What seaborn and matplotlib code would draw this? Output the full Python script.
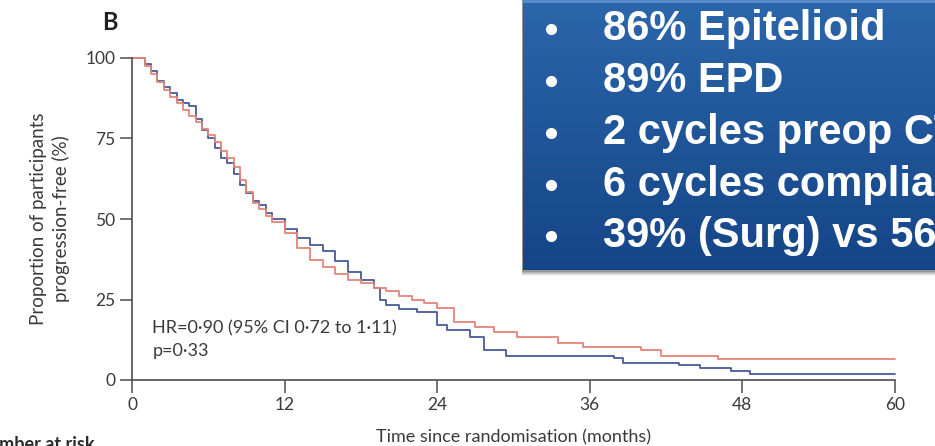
import numpy as np
import pandas as pd
import matplotlib
matplotlib.use("Agg")
import matplotlib.pyplot as plt
from matplotlib.patches import Rectangle
import seaborn as sns

# Kaplan-Meier step points: months since randomisation and % progression-free
arm1_months = [0, 0.8, 1.0, 1.5, 2.0, 2.5, 3.0, 3.5, 4.0, 4.5, 5.0, 5.5, 6.0, 6.5,
               7.0, 7.5, 8.0, 8.5, 9.0, 9.5, 10.0, 10.5, 11.0, 12.0, 13.0, 14.0,
               15.0, 16.0, 17.0, 18.0, 19.0, 19.5, 20.0, 21.0, 22.4, 24.0, 24.8,
               26.6, 27.7, 29.4, 37.9, 38.6, 43.0, 44.7, 47.1, 48.6, 60.0]
arm1_pfs = [100, 100, 98, 96, 93, 91, 89, 87, 86, 85, 81, 77.5, 75, 72,
            69, 67.5, 64, 60.5, 58, 55.5, 54.5, 52, 50, 47, 44, 42,
            40, 37, 33.5, 31, 28.5, 25, 23.3, 22, 21, 17, 15.5,
            13.4, 9.3, 7.5, 6.8, 5.3, 4.6, 3.7, 2.9, 1.9, 1.9]

arm2_months = [0, 0.8, 1.0, 1.5, 2.0, 2.5, 3.0, 3.5, 4.0, 4.5, 5.0, 5.5, 6.0, 6.5,
               7.0, 7.5, 8.0, 8.5, 9.0, 9.5, 10.0, 10.5, 11.0, 12.0, 13.0, 14.0,
               15.0, 16.0, 17.0, 18.0, 19.0, 20.0, 21.0, 22.0, 23.0, 24.0, 25.3,
               27.0, 28.5, 30.3, 33.5, 35.5, 40.0, 41.6, 46.1, 60.0]
arm2_pfs = [100, 100, 97.5, 95, 92.5, 90, 88, 86, 84, 82, 80, 78, 76, 74,
            71, 69, 66, 62, 58.5, 55, 53, 51, 49, 45.5, 41, 37.3,
            35, 33, 31, 30, 28.5, 27.5, 26, 25, 24, 22.5, 18,
            16.5, 15, 13.4, 11.5, 10.2, 9.3, 7.5, 6.5, 6.5]

arm_names = ["Arm 1", "Arm 2"]
arm_colors = ["#46599a", "#e58478"]

x_ticks = [0, 12, 24, 36, 48, 60]
y_ticks = [0, 25, 50, 75, 100]

hr_text = "HR=0\u00b790 (95% CI 0\u00b772 to 1\u00b711)\np=0\u00b733"
box_lines = ["86% Epitelioid", "89% EPD", "2 cycles preop CT",
             "6 cycles compliance", "39% (Surg) vs 56% (No Surg)"]

df = pd.concat([
    pd.DataFrame({"month": arm1_months, "pfs": arm1_pfs, "arm": arm_names[0]}),
    pd.DataFrame({"month": arm2_months, "pfs": arm2_pfs, "arm": arm_names[1]}),
], ignore_index=True)

sns.set_theme(style="ticks")
plt.rcParams["font.family"] = ["Lato", "DejaVu Sans"]

W, H = 935, 446
fig = plt.figure(figsize=(W / 100, H / 100), dpi=100)
ax = fig.add_axes([132 / W, 1 - 380 / H, (895 - 132) / W, (380 - 58) / H])

sns.lineplot(data=df, x="month", y="pfs", hue="arm", palette=arm_colors,
             drawstyle="steps-post", linewidth=1.3, legend=False, ax=ax,
             clip_on=False, estimator=None, sort=False)

grey = "#4d4d4d"
ax.set_xlim(0, 60)
ax.set_ylim(0, 100)
ax.set_xticks(x_ticks)
ax.set_yticks(y_ticks)
ax.tick_params(axis="both", direction="out", length=9, width=1.1, color=grey,
               labelcolor="#3a3a3a", labelsize=12.5, pad=3)
sns.despine(ax=ax)
for side in ("left", "bottom"):
    ax.spines[side].set_color(grey)
    ax.spines[side].set_linewidth(1.2)
ax.set_xlabel("")
ax.set_ylabel("")

fig.text(513 / W, 1 - 437 / H, "Time since randomisation (months)",
         ha="center", va="center", fontsize=13, color="#3a3a3a")
fig.text(50 / W, 1 - 219 / H, "Proportion of participants\nprogression-free (%)",
         ha="center", va="center", rotation=90, fontsize=13.5,
         color="#3a3a3a", linespacing=1.3)
ax.text(1.6, 12.5, hr_text, ha="left", va="center", fontsize=13,
        color="#3a3a3a", linespacing=1.5)
fig.text(110 / W, 1 - 23 / H, "B", ha="center", va="center", fontsize=17,
         fontweight="bold", color="#222222")
fig.text(95 / W, 1 - 436 / H, "Number at risk", ha="right", va="top",
         fontsize=13, fontweight="bold", color="#2a2a2a")

# Blue overlay panel with a soft drop shadow
ov = fig.add_axes([0, 0, 1, 1], zorder=5)
ov.set_xlim(0, W)
ov.set_ylim(H, 0)
ov.axis("off")
bx0, by1 = 523, 270
for i, a in enumerate([0.05, 0.07, 0.09, 0.12, 0.15]):
    off = 6 - i
    ov.add_patch(Rectangle((bx0 - 1, -5), W + 10 - bx0, by1 + 5 + off,
                           facecolor="black", alpha=a, edgecolor="none"))
grad = np.linspace(0, 1, 256)[:, None]
top = np.array([0.17, 0.40, 0.67])
bot = np.array([0.08, 0.27, 0.53])
img = top[None, None, :] * (1 - grad[..., None]) + bot[None, None, :] * grad[..., None]
img = np.repeat(img, 2, axis=1)
ov.imshow(img, extent=[bx0, W + 2, by1, -2], aspect="auto", zorder=6,
          interpolation="bilinear")
ov.plot([bx0, W], [1, 1], color="#5a8ed0", lw=2, zorder=7)
ov.set_xlim(0, W)
ov.set_ylim(H, 0)

line_y = [29, 81, 133, 185, 236]
for y, txt in zip(line_y, box_lines):
    ov.plot(551, y, "o", color="white", markersize=7, zorder=8)
    ov.text(603, y, txt, ha="left", va="center", color="white",
            fontsize=30, fontweight="bold", fontfamily="Liberation Sans",
            zorder=8)

fig.savefig("out.png", dpi=100)
